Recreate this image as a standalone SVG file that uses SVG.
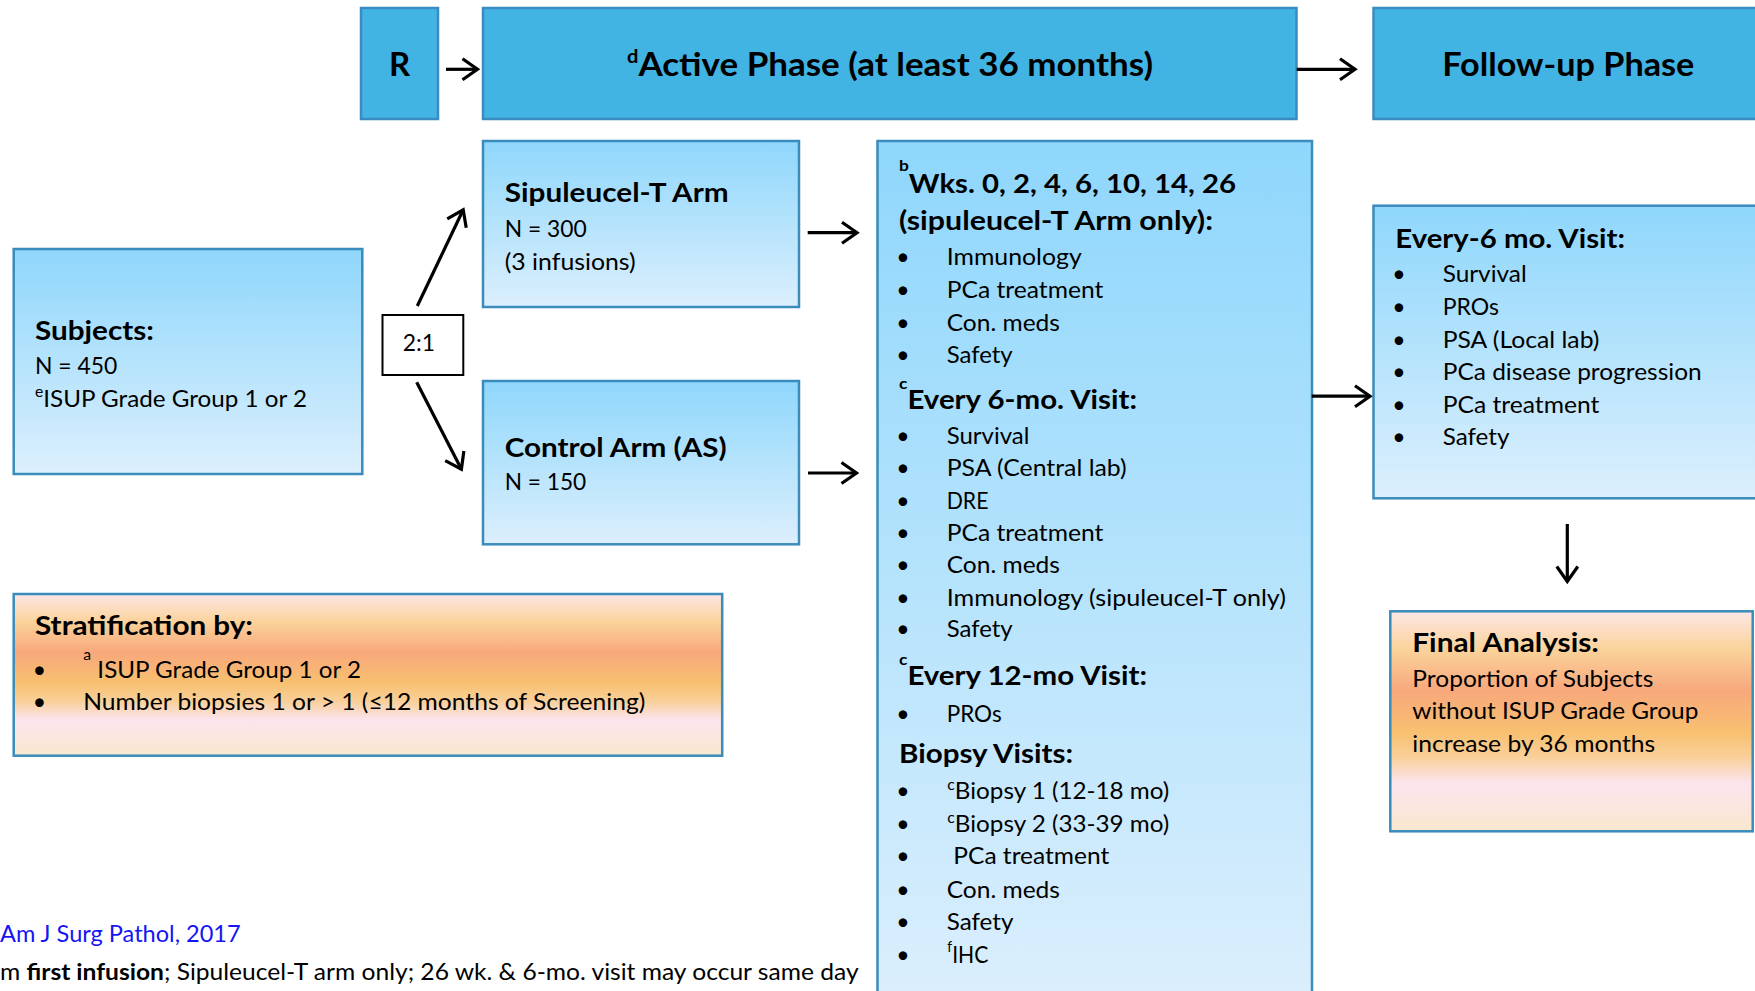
<svg xmlns="http://www.w3.org/2000/svg" width="1755" height="991" viewBox="0 0 1755 991">
<style>
.bar{fill:#42B4E4;stroke:#3A8CC0;stroke-width:2.5}
.lb{fill:url(#gBlue);stroke:#3A8CBB;stroke-width:2.5}
.or{fill:url(#gOrange);stroke:#3A8CBB;stroke-width:2.5}
.wb{fill:#fff;stroke:#000;stroke-width:2}
text{font-family:Lato,"Open Sans","Liberation Sans",sans-serif;fill:#000}
.h0{font-size:33px;font-weight:700}
.h{font-size:27px;font-weight:700}
.b{font-size:23px}
.bul{font-size:23px;text-anchor:middle}
.sup{font-size:15px}
.link{fill:#1515F5}
.conn line{stroke:#000;stroke-width:3.2;marker-end:url(#arr)}
</style>
<defs>
<linearGradient id="gBlue" x1="0" y1="0" x2="0" y2="1">
<stop offset="0" stop-color="#8FD7FC"/>
<stop offset="0.5" stop-color="#B5E3FC"/>
<stop offset="1" stop-color="#DCEFFD"/>
</linearGradient>
<linearGradient id="gOrange" x1="0" y1="0" x2="0" y2="1">
<stop offset="0" stop-color="#FDE7E7"/>
<stop offset="0.17" stop-color="#FAD39B"/>
<stop offset="0.36" stop-color="#F8A87C"/>
<stop offset="0.55" stop-color="#F8C070"/>
<stop offset="0.66" stop-color="#F9CF98"/>
<stop offset="0.78" stop-color="#FCE4EE"/>
<stop offset="1" stop-color="#F9E8CE"/>
</linearGradient>
<marker id="arr" markerUnits="userSpaceOnUse" markerWidth="30" markerHeight="30" viewBox="-20 -15 25 30" refX="0" refY="0" orient="auto" overflow="visible">
<path d="M-15,-10.5 L0,0 L-15,10.5" fill="none" stroke="#000" stroke-width="3.2"/>
</marker>
</defs>

<g id="node-r">
<rect class="bar" x="361" y="8" width="77" height="111"/>
<text class="h0" x="399.5" y="76" text-anchor="middle">R</text>
</g>

<g id="node-active">
<rect class="bar" x="483" y="8" width="813.5" height="111"/>
<text class="h0" x="627" y="76" textLength="526" lengthAdjust="spacingAndGlyphs"><tspan font-size="19" dy="-12.7">d</tspan><tspan dy="12.7">Active Phase (at least 36 months)</tspan></text>
</g>

<g id="node-followup">
<rect class="bar" x="1373.5" y="8" width="400" height="111"/>
<text class="h0" x="1442.3" y="76" textLength="252" lengthAdjust="spacingAndGlyphs">Follow-up Phase</text>
</g>

<g id="node-subjects">
<rect class="lb" x="13.7" y="249" width="348.6" height="225"/>
<text class="h" x="35" y="340" textLength="119" lengthAdjust="spacingAndGlyphs">Subjects:</text>
<text class="b" x="35" y="374" textLength="82.3" lengthAdjust="spacingAndGlyphs">N = 450</text>
<text class="b" x="35" y="406.7" textLength="272" lengthAdjust="spacingAndGlyphs"><tspan class="sup" dy="-10">e</tspan><tspan dy="10">ISUP Grade Group 1 or 2</tspan></text>
</g>

<g id="node-ratio">
<rect class="wb" x="382.5" y="315" width="80.8" height="60"/>
<text class="b" x="402.7" y="350.7" textLength="32.3" lengthAdjust="spacingAndGlyphs">2:1</text>
</g>

<g id="node-sipuleucel">
<rect class="lb" x="483" y="141" width="316" height="166"/>
<text class="h" x="504.7" y="202.3" textLength="224" lengthAdjust="spacingAndGlyphs">Sipuleucel-T Arm</text>
<text class="b" x="504.7" y="237.3" textLength="82" lengthAdjust="spacingAndGlyphs">N = 300</text>
<text class="b" x="504.7" y="269.5" textLength="131" lengthAdjust="spacingAndGlyphs">(3 infusions)</text>
</g>

<g id="node-control">
<rect class="lb" x="483" y="381" width="316" height="163.3"/>
<text class="h" x="504.7" y="456.7" textLength="222" lengthAdjust="spacingAndGlyphs">Control Arm (AS)</text>
<text class="b" x="504.7" y="490" textLength="81.5" lengthAdjust="spacingAndGlyphs">N = 150</text>
</g>

<g id="node-active-visits">
<rect class="lb" x="877.5" y="141" width="434.5" height="870"/>
<text class="h" x="899" y="192.5" textLength="337" lengthAdjust="spacingAndGlyphs"><tspan font-size="16" dy="-22">b</tspan><tspan dy="22">Wks. 0, 2, 4, 6, 10, 14, 26</tspan></text>
<text class="h" x="899" y="230" textLength="314" lengthAdjust="spacingAndGlyphs">(sipuleucel-T Arm only):</text>
<text class="bul" x="903" y="265">•</text><text class="b" x="946.7" y="265" textLength="135" lengthAdjust="spacingAndGlyphs">Immunology</text>
<text class="bul" x="903" y="298">•</text><text class="b" x="946.7" y="298" textLength="156.7" lengthAdjust="spacingAndGlyphs">PCa treatment</text>
<text class="bul" x="903" y="330.7">•</text><text class="b" x="946.7" y="330.7" textLength="113.3" lengthAdjust="spacingAndGlyphs">Con. meds</text>
<text class="bul" x="903" y="363">•</text><text class="b" x="946.7" y="363" textLength="66" lengthAdjust="spacingAndGlyphs">Safety</text>
<text class="h" x="899" y="408.6" textLength="238" lengthAdjust="spacingAndGlyphs"><tspan font-size="16" dy="-20">c</tspan><tspan dy="20">Every 6-mo. Visit:</tspan></text>
<text class="bul" x="903" y="444.3">•</text><text class="b" x="946.7" y="444.3" textLength="82.7" lengthAdjust="spacingAndGlyphs">Survival</text>
<text class="bul" x="903" y="476.4">•</text><text class="b" x="946.7" y="476.4" textLength="180" lengthAdjust="spacingAndGlyphs">PSA (Central lab)</text>
<text class="bul" x="903" y="508.6">•</text><text class="b" x="946.7" y="508.6" textLength="41.7" lengthAdjust="spacingAndGlyphs">DRE</text>
<text class="bul" x="903" y="540.7">•</text><text class="b" x="946.7" y="540.7" textLength="156.7" lengthAdjust="spacingAndGlyphs">PCa treatment</text>
<text class="bul" x="903" y="572.9">•</text><text class="b" x="946.7" y="572.9" textLength="113.3" lengthAdjust="spacingAndGlyphs">Con. meds</text>
<text class="bul" x="903" y="605.7">•</text><text class="b" x="946.7" y="605.7" textLength="339.3" lengthAdjust="spacingAndGlyphs">Immunology (sipuleucel-T only)</text>
<text class="bul" x="903" y="637.1">•</text><text class="b" x="946.7" y="637.1" textLength="66" lengthAdjust="spacingAndGlyphs">Safety</text>
<text class="h" x="899" y="685" textLength="248" lengthAdjust="spacingAndGlyphs"><tspan font-size="16" dy="-20">c</tspan><tspan dy="20">Every 12-mo Visit:</tspan></text>
<text class="bul" x="903" y="721.7">•</text><text class="b" x="946.7" y="721.7" textLength="55" lengthAdjust="spacingAndGlyphs">PROs</text>
<text class="h" x="899" y="763.3" textLength="174" lengthAdjust="spacingAndGlyphs">Biopsy Visits:</text>
<text class="bul" x="903" y="799">•</text><text class="b" x="947.3" y="799" textLength="222" lengthAdjust="spacingAndGlyphs"><tspan class="sup" dy="-9">c</tspan><tspan dy="9">Biopsy 1 (12-18 mo)</tspan></text>
<text class="bul" x="903" y="832.3">•</text><text class="b" x="947.3" y="832.3" textLength="222" lengthAdjust="spacingAndGlyphs"><tspan class="sup" dy="-9">c</tspan><tspan dy="9">Biopsy 2 (33-39 mo)</tspan></text>
<text class="bul" x="903" y="864.3">•</text><text class="b" x="953.3" y="864.3" textLength="156" lengthAdjust="spacingAndGlyphs">PCa treatment</text>
<text class="bul" x="903" y="897.7">•</text><text class="b" x="946.7" y="897.7" textLength="113.3" lengthAdjust="spacingAndGlyphs">Con. meds</text>
<text class="bul" x="903" y="930">•</text><text class="b" x="946.7" y="930" textLength="66.7" lengthAdjust="spacingAndGlyphs">Safety</text>
<text class="bul" x="903" y="962.7">•</text><text class="b" x="947.3" y="962.7" textLength="41" lengthAdjust="spacingAndGlyphs"><tspan class="sup" dy="-11">f</tspan><tspan dy="11">IHC</tspan></text>
</g>

<g id="node-followup-visits">
<rect class="lb" x="1373.5" y="205.7" width="400" height="292.6"/>
<text class="h" x="1395.3" y="248" textLength="229.7" lengthAdjust="spacingAndGlyphs">Every-6 mo. Visit:</text>
<text class="bul" x="1399" y="282">•</text><text class="b" x="1442.7" y="282" textLength="84" lengthAdjust="spacingAndGlyphs">Survival</text>
<text class="bul" x="1399" y="314.5">•</text><text class="b" x="1442.7" y="314.5" textLength="56.3" lengthAdjust="spacingAndGlyphs">PROs</text>
<text class="bul" x="1399" y="347.7">•</text><text class="b" x="1442.7" y="347.7" textLength="156.7" lengthAdjust="spacingAndGlyphs">PSA (Local lab)</text>
<text class="bul" x="1399" y="380">•</text><text class="b" x="1442.7" y="380" textLength="259" lengthAdjust="spacingAndGlyphs">PCa disease progression</text>
<text class="bul" x="1399" y="412.8">•</text><text class="b" x="1442.7" y="412.8" textLength="156.7" lengthAdjust="spacingAndGlyphs">PCa treatment</text>
<text class="bul" x="1399" y="445.2">•</text><text class="b" x="1442.7" y="445.2" textLength="66.7" lengthAdjust="spacingAndGlyphs">Safety</text>
</g>

<g id="node-final">
<rect class="or" x="1390.3" y="611.3" width="362.4" height="220"/>
<text class="h" x="1412.3" y="652.3" textLength="186.7" lengthAdjust="spacingAndGlyphs">Final Analysis:</text>
<text class="b" x="1412.3" y="687" textLength="241" lengthAdjust="spacingAndGlyphs">Proportion of Subjects</text>
<text class="b" x="1412.3" y="718.7" textLength="286" lengthAdjust="spacingAndGlyphs">without ISUP Grade Group</text>
<text class="b" x="1412.3" y="751.7" textLength="243" lengthAdjust="spacingAndGlyphs">increase by 36 months</text>
</g>

<g id="node-stratification">
<rect class="or" x="13.7" y="594" width="708.5" height="161.7"/>
<text class="h" x="35" y="635" textLength="218" lengthAdjust="spacingAndGlyphs">Stratification by:</text>
<text class="bul" x="39.3" y="677.7">•</text>
<text class="b" x="83.3" y="677.7" textLength="277.7" lengthAdjust="spacingAndGlyphs"><tspan class="sup" dy="-17.7">a</tspan><tspan dy="17.7"> ISUP Grade Group 1 or 2</tspan></text>
<text class="bul" x="39.3" y="710">•</text>
<text class="b" x="83.3" y="710" textLength="562" lengthAdjust="spacingAndGlyphs">Number biopsies 1 or &gt; 1 (≤12 months of Screening)</text>
</g>

<g id="footnotes">
<text class="b link" x="0" y="941.7" textLength="240.7" lengthAdjust="spacingAndGlyphs">Am J Surg Pathol, 2017</text>
<text class="b" x="0" y="980" textLength="858.6" lengthAdjust="spacingAndGlyphs">m <tspan font-weight="700">first infusion</tspan>; Sipuleucel-T arm only; 26 wk. &amp; 6-mo. visit may occur same day</text>
</g>

<g id="connectors" class="conn">
<line x1="446" y1="69.3" x2="477.5" y2="69.3"/>
<line x1="1296.7" y1="69.3" x2="1355" y2="69.3"/>
<line x1="417.3" y1="306" x2="463.2" y2="209.8"/>
<line x1="416.7" y1="382.3" x2="461.4" y2="469.2"/>
<line x1="807.7" y1="232.7" x2="857" y2="232.7"/>
<line x1="808" y1="473" x2="856.5" y2="473"/>
<line x1="1311.7" y1="396.2" x2="1370" y2="396.2"/>
<line x1="1567.3" y1="524" x2="1567.3" y2="581.5"/>
</g>
</svg>
